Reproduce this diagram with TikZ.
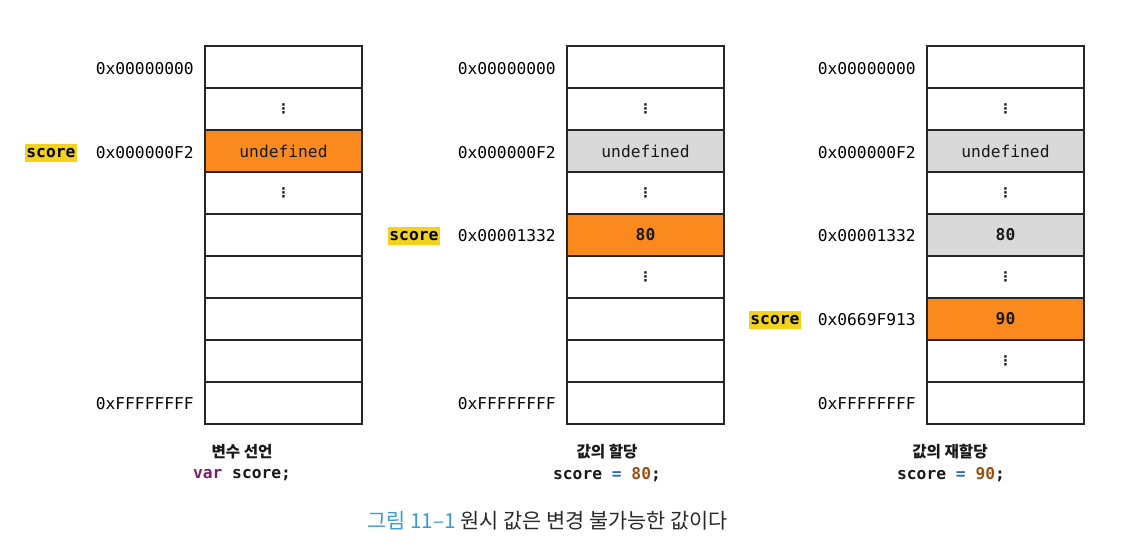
\documentclass[tikz,border=0pt]{standalone}
\usepackage{fontspec}
\setmainfont{Noto Sans CJK KR}
\newfontfamily\mono{DejaVu Sans Mono}
\newfontfamily\kr{Noto Sans CJK KR}
\newfontfamily\dotf{DejaVu Sans}
\definecolor{cellorange}{HTML}{FB8A1E}
\definecolor{cellgray}{HTML}{D9D9D9}
\definecolor{hlyellow}{HTML}{F2D21C}
\definecolor{capblue}{HTML}{3C9BD6}
\definecolor{captext}{HTML}{2A2A2A}
\definecolor{kwpurple}{HTML}{7E1B6A}
\definecolor{opblue}{HTML}{2E6DB4}
\definecolor{numbrown}{HTML}{9A4F10}
\newcommand\vd{{\dotf\fontsize{10}{10}\selectfont\bfseries ⋮}}
\begin{document}
\begin{tikzpicture}[x=0.75pt,y=-0.75pt,
  cell/.style={draw=black!85, line width=0.9pt, minimum width=117.75pt, minimum height=31.5pt,
    inner sep=0pt, font=\mono\fontsize{12.2}{14}\selectfont, text=black!90},
  hot/.style={cell, fill=cellorange},
  old/.style={cell, fill=cellgray},
  addr/.style={anchor=east, inner sep=0pt, font=\mono\fontsize{12.2}{14}\selectfont, text=black},
  hl/.style={anchor=east, fill=hlyellow, inner xsep=1pt, inner ysep=3pt, font=\mono\bfseries\fontsize{12.2}{14}\selectfont, text=black},
  ttl/.style={inner sep=0pt, font=\kr\bfseries\fontsize{11.7}{13}\selectfont, text=black!90},
  code/.style={inner sep=0pt, font=\mono\bfseries\fontsize{12.2}{14}\selectfont, text=black!90},
  captxt/.style={inner sep=0pt, anchor=west, font=\kr\fontsize{15.6}{18}\selectfont, text=captext}
]
\useasboundingbox (0,0) rectangle (1144,544);
\fill[white] (0,0) rectangle (1144,544);

% column 1
\node[cell] (a1) at (283.5,67) {};
\node[cell] (a2) at (283.5,109) {\vd};
\node[hot]  (a3) at (283.5,151) {undefined};
\node[cell] (a4) at (283.5,193) {\vd};
\node[cell] (a5) at (283.5,235) {};
\node[cell] (a6) at (283.5,277) {};
\node[cell] (a7) at (283.5,319) {};
\node[cell] (a8) at (283.5,361) {};
\node[cell] (a9) at (283.5,403) {};
\node[addr] (la1) at (194,69) {0x00000000};
\node[addr] (la3) at (194,153) {0x000000F2};
\node[addr] (la9) at (194,404) {0xFFFFFFFF};
\node[hl] (sa) at (77,153) {score};
\node[ttl] (ta) at (242,452) {변수 선언};
\node[code] (ca) at (242,475) {\textcolor{kwpurple}{var} score;};

% column 2
\node[cell] (b1) at (645.5,67) {};
\node[cell] (b2) at (645.5,109) {\vd};
\node[old]  (b3) at (645.5,151) {undefined};
\node[cell] (b4) at (645.5,193) {\vd};
\node[hot]  (b5) at (645.5,235) {\bfseries 80};
\node[cell] (b6) at (645.5,277) {\vd};
\node[cell] (b7) at (645.5,319) {};
\node[cell] (b8) at (645.5,361) {};
\node[cell] (b9) at (645.5,403) {};
\node[addr] (lb1) at (556,69) {0x00000000};
\node[addr] (lb3) at (556,153) {0x000000F2};
\node[addr] (lb5) at (556,236) {0x00001332};
\node[addr] (lb9) at (556,404) {0xFFFFFFFF};
\node[hl] (sb) at (440,236) {score};
\node[ttl] (tb) at (607,452) {값의 할당};
\node[code] (cb) at (607,475) {score \textcolor{opblue}{=} \textcolor{numbrown}{80};};

% column 3
\node[cell] (c1) at (1005.5,67) {};
\node[cell] (c2) at (1005.5,109) {\vd};
\node[old]  (c3) at (1005.5,151) {undefined};
\node[cell] (c4) at (1005.5,193) {\vd};
\node[old]  (c5) at (1005.5,235) {\bfseries 80};
\node[cell] (c6) at (1005.5,277) {\vd};
\node[hot]  (c7) at (1005.5,319) {\bfseries 90};
\node[cell] (c8) at (1005.5,361) {\vd};
\node[cell] (c9) at (1005.5,403) {};
\node[addr] (lc1) at (916,69) {0x00000000};
\node[addr] (lc3) at (916,153) {0x000000F2};
\node[addr] (lc5) at (916,236) {0x00001332};
\node[addr] (lc7) at (916,320) {0x0669F913};
\node[addr] (lc9) at (916,404) {0xFFFFFFFF};
\node[hl] (sc) at (801,320) {score};
\node[ttl] (tc) at (950,452) {값의 재할당};
\node[code] (cc) at (951,475) {score \textcolor{opblue}{=} \textcolor{numbrown}{90};};

% caption
\node[captxt] (cp) at (367,521) {\textcolor{capblue}{그림 11–1} 원시 값은 변경 불가능한 값이다};
\end{tikzpicture}
\end{document}
